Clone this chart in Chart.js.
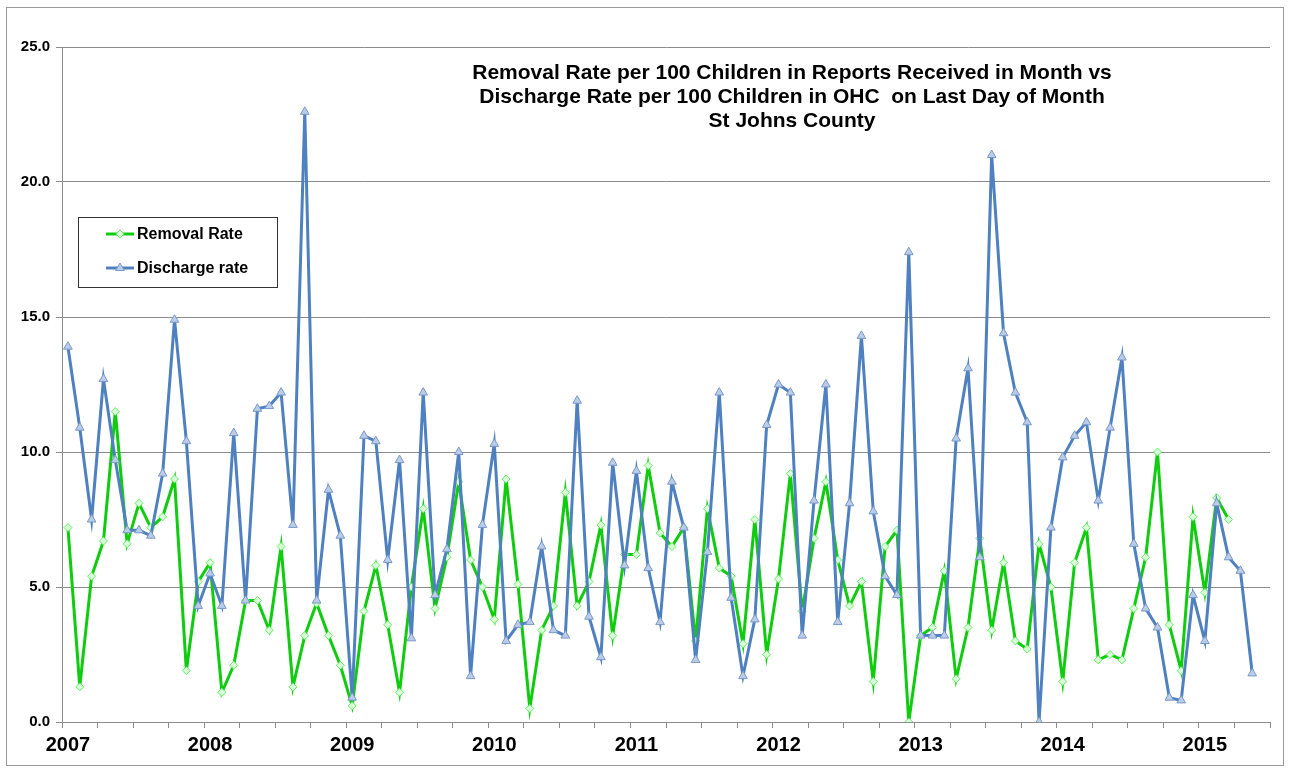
<!DOCTYPE html>
<html>
<head>
<meta charset="utf-8">
<script src="https://cdn.jsdelivr.net/npm/chart.js@4/dist/chart.umd.min.js"></script>
<style>
  html, body { margin: 0; padding: 0; background: #fff; }
  #wrap { position: relative; width: 1293px; height: 772px; }
</style>
</head>
<body>
<div id="wrap"><canvas id="myChart" width="1293" height="772"></canvas></div>
<script>
// monthly data, Jan 2007 .. May 2015 (plus one empty slot at the end of the axis)
var years = ["2007", "2008", "2009", "2010", "2011", "2012", "2013", "2014", "2015"];
var monthNames = ["Jan", "Feb", "Mar", "Apr", "May", "Jun", "Jul", "Aug", "Sep", "Oct", "Nov", "Dec"];
var monthsInLastYear = 6;

var removalRate = [
  7.2, 1.3, 5.4, 6.7, 11.5, 6.6, 8.1, 7.2, 7.6, 9.0, 1.9, 5.2,
  5.9, 1.1, 2.1, 4.5, 4.5, 3.4, 6.5, 1.3, 3.2, 4.4, 3.2, 2.1,
  0.6, 4.1, 5.8, 3.6, 1.1, 5.0, 7.9, 4.2, 6.1, 8.9, 6.0, 5.0,
  3.8, 9.0, 5.1, 0.5, 3.4, 4.3, 8.5, 4.3, 5.2, 7.3, 3.2, 6.2,
  6.2, 9.5, 7.0, 6.5, 7.2, 3.0, 7.9, 5.7, 5.4, 2.9, 7.5, 2.5,
  5.3, 9.2, 4.1, 6.8, 8.9, 6.0, 4.3, 5.2, 1.5, 6.5, 7.1, 0.0,
  3.2, 3.5, 5.6, 1.6, 3.5, 6.8, 3.4, 5.9, 3.0, 2.7, 6.6, 5.0,
  1.5, 5.9, 7.2, 2.3, 2.5, 2.3, 4.2, 6.1, 10.0, 3.6, 1.9, 7.6,
  4.8, 8.3, 7.5
];

var dischargeRate = [
  13.9, 10.9, 7.5, 12.7, 9.7, 7.1, 7.1, 6.9, 9.2, 14.9, 10.4, 4.3,
  5.5, 4.3, 10.7, 4.5, 11.6, 11.7, 12.2, 7.3, 22.6, 4.5, 8.6, 6.9,
  0.9, 10.6, 10.4, 6.0, 9.7, 3.1, 12.2, 4.7, 6.4, 10.0, 1.7, 7.3,
  10.3, 3.0, 3.6, 3.7, 6.5, 3.4, 3.2, 11.9, 3.9, 2.4, 9.6, 5.8,
  9.3, 5.7, 3.7, 8.9, 7.2, 2.3, 6.3, 12.2, 4.6, 1.7, 3.8, 11.0,
  12.5, 12.2, 3.2, 8.2, 12.5, 3.7, 8.1, 14.3, 7.8, 5.4, 4.7, 17.4,
  3.2, 3.2, 3.2, 10.5, 13.1, 6.1, 21.0, 14.4, 12.2, 11.1, 0.0, 7.2,
  9.8, 10.6, 11.1, 8.2, 10.9, 13.5, 6.6, 4.2, 3.5, 0.9, 0.8, 4.7,
  3.0, 8.1, 6.1, 5.6, 1.8
];

var titleLines = [
  "Removal Rate per 100 Children in Reports Received in Month vs",
  "Discharge Rate per 100 Children in OHC  on Last Day of Month",
  "St Johns County"
];

var labels = [];
years.forEach(function (y, yi) {
  var n = yi === years.length - 1 ? monthsInLastYear : 12;
  for (var m = 0; m < n; m++) labels.push(monthNames[m] + " " + y);
});

var GREEN = "#0fcc0f";
var BLUE = "#4f80c0";
var FONT = '"Liberation Sans", Arial, sans-serif';

var overlay = {
  id: "overlay",
  afterDraw: function (chart) {
    var c = chart.ctx;
    c.save();
    // outer frame
    c.strokeStyle = "#9a9a9a";
    c.lineWidth = 1;
    c.strokeRect(6.5, 7.5, 1277, 758);

    // title
    c.fillStyle = "#000";
    c.font = "bold 21px " + FONT;
    c.textAlign = "center";
    c.textBaseline = "middle";
    titleLines.forEach(function (t, i) {
      c.fillText(t, 792, 73 + i * 24);
    });

    // legend
    c.fillStyle = "#fff";
    c.fillRect(78, 217, 199, 70);
    c.strokeStyle = "#333";
    c.strokeRect(78.5, 217.5, 199, 70);
    c.font = "bold 16px " + FONT;
    c.textAlign = "left";
    chart.data.datasets.forEach(function (ds, i) {
      var y = 234 + i * 34;
      c.strokeStyle = ds.borderColor;
      c.lineWidth = 3;
      c.beginPath();
      c.moveTo(106, y);
      c.lineTo(134, y);
      c.stroke();
      c.fillStyle = ds.pointBackgroundColor;
      c.strokeStyle = ds.pointBorderColor;
      c.lineWidth = 1;
      Chart.helpers.drawPoint(c, { pointStyle: ds.pointStyle, radius: ds.pointRadius, borderWidth: 1, rotation: 0 }, 120, y);
      c.fillStyle = "#000";
      c.fillText(ds.label, 137, y + 1);
    });
    c.restore();
  }
};

var ctx = document.getElementById("myChart").getContext("2d");

var chart = new Chart(ctx, {
  type: "line",
  data: {
    labels: labels,
    datasets: [
      {
        label: "Removal Rate",
        data: removalRate,
        borderColor: GREEN,
        borderWidth: 3,
        pointStyle: "rectRot",
        pointRadius: 4,
        pointBackgroundColor: "#d8ffd8",
        pointBorderColor: "#66ee66",
        pointBorderWidth: 1,
        tension: 0,
        order: 1
      },
      {
        label: "Discharge rate",
        data: dischargeRate,
        borderColor: BLUE,
        borderWidth: 3,
        pointStyle: "triangle",
        pointRadius: 5,
        pointBackgroundColor: "#b9cde8",
        pointBorderColor: "#7a98c8",
        pointBorderWidth: 1,
        tension: 0,
        order: 0
      }
    ]
  },
  options: {
    responsive: false,
    animation: false,
    layout: { padding: { left: 10, top: 47, right: 23, bottom: 10 } },
    plugins: {
      legend: { display: false },
      title: { display: false },
      tooltip: { enabled: false }
    },
    scales: {
      x: {
        type: "category",
        offset: true,
        afterFit: function (s) { s.height = 40; },
        border: { color: "#8c8c8c", width: 1 },
        grid: {
          offset: true,
          drawOnChartArea: false,
          tickLength: 6,
          tickColor: function (c) {
            return (c.index === undefined || c.index % 3 === 0) ? "#8c8c8c" : "rgba(0,0,0,0)";
          }
        },
        ticks: {
          autoSkip: false,
          maxRotation: 0,
          minRotation: 0,
          padding: 5,
          color: "#000",
          font: { family: FONT, size: 20, weight: "bold" },
          callback: function (v, i) {
            return i % 12 === 0 ? years[i / 12] : "";
          }
        }
      },
      y: {
        min: 0,
        max: 25,
        afterFit: function (s) { s.width = 52; },
        border: { color: "#8c8c8c", width: 1 },
        grid: { color: "#8c8c8c", tickLength: 6, tickColor: "#8c8c8c" },
        ticks: {
          stepSize: 5,
          padding: 6,
          color: "#000",
          font: { family: FONT, size: 15, weight: "bold" },
          callback: function (v) { return v.toFixed(1); }
        }
      }
    }
  },
  plugins: [overlay]
});
</script>
</body>
</html>
